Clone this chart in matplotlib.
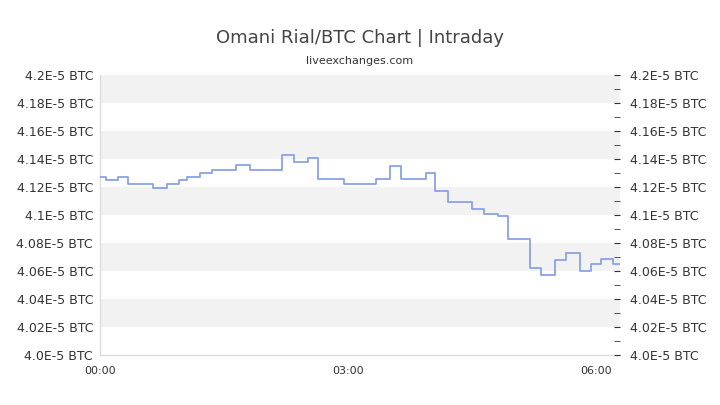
import matplotlib
matplotlib.use("Agg")
import matplotlib.pyplot as plt
from matplotlib.ticker import MultipleLocator

# step change times (minutes after 00:00) and prices (units of 1E-5 BTC)
minutes = [0, 4.4, 13.1, 20.3, 38.5, 48.6, 57.3, 63.1, 72.6, 81.3, 98.7, 108.9,
           132.1, 140.8, 151.0, 158.2, 177.1, 200.3, 210.5, 218.5, 236.6, 243.2,
           252.6, 270.0, 278.7, 288.9, 296.1, 312.1, 320.1, 330.2, 338.2, 348.4,
           356.4, 363.6, 372.3, 377.4]
prices = [4.1274, 4.1250, 4.1274, 4.1224, 4.1193, 4.1224, 4.1250, 4.1274, 4.1302,
          4.1324, 4.1355, 4.1324, 4.1431, 4.1381, 4.1405, 4.1254, 4.1225, 4.1254,
          4.1352, 4.1254, 4.1302, 4.1174, 4.1095, 4.1043, 4.1009, 4.0995, 4.0831,
          4.0624, 4.0574, 4.0681, 4.0731, 4.0602, 4.0650, 4.0684, 4.0652, 4.0652]
y_ticks = [4.0, 4.02, 4.04, 4.06, 4.08, 4.1, 4.12, 4.14, 4.16, 4.18, 4.2]
y_labels = ["4.0E-5 BTC", "4.02E-5 BTC", "4.04E-5 BTC", "4.06E-5 BTC", "4.08E-5 BTC",
            "4.1E-5 BTC", "4.12E-5 BTC", "4.14E-5 BTC", "4.16E-5 BTC", "4.18E-5 BTC",
            "4.2E-5 BTC"]
x_ticks = [0, 180, 360]
x_labels = ["00:00", "03:00", "06:00"]

fig = plt.figure(figsize=(7.2, 4.05), dpi=100)
ax = fig.add_axes([100/720, 1-355/405, 520/720, 280/405])
ax.set_xlim(0, 377.4)
ax.set_ylim(4.0, 4.2)

# alternating bands
for i in range(len(y_ticks) - 1):
    if i % 2 == 1:
        ax.axhspan(y_ticks[i], y_ticks[i+1], color="#f2f2f2", zorder=0, lw=0)

ax.plot(minutes, prices, drawstyle="steps-post", color="#8aa2e6", lw=1.3, zorder=3)

for s in ["top", "right"]:
    ax.spines[s].set_visible(False)
for s in ["left", "bottom"]:
    ax.spines[s].set_color("#dddddd")
    ax.spines[s].set_linewidth(1)

ax.set_xticks(x_ticks)
ax.set_xticklabels(x_labels, fontsize=8, color="#333333")
ax.tick_params(axis="x", length=0, pad=8)
ax.set_yticks(y_ticks)
ax.set_yticklabels(y_labels, fontsize=9, color="#333333")
ax.tick_params(axis="y", length=0, pad=5)

ax2 = ax.twinx()
ax2.set_ylim(4.0, 4.2)
ax2.set_yticks(y_ticks)
ax2.set_yticklabels(y_labels, fontsize=9, color="#333333")
ax2.yaxis.set_minor_locator(MultipleLocator(0.01))
ax2.tick_params(axis="y", which="both", direction="in", length=4, color="#333333", pad=7)
for s in ["top", "right", "left", "bottom"]:
    ax2.spines[s].set_visible(False)

fig.text(0.5, 1-38/405, "Omani Rial/BTC Chart | Intraday", ha="center", va="center",
         fontsize=13, color="#444444")
fig.text(0.5, 1-61/405, "liveexchanges.com", ha="center", va="center",
         fontsize=8, color="#333333")

fig.savefig("out.png", dpi=100)
